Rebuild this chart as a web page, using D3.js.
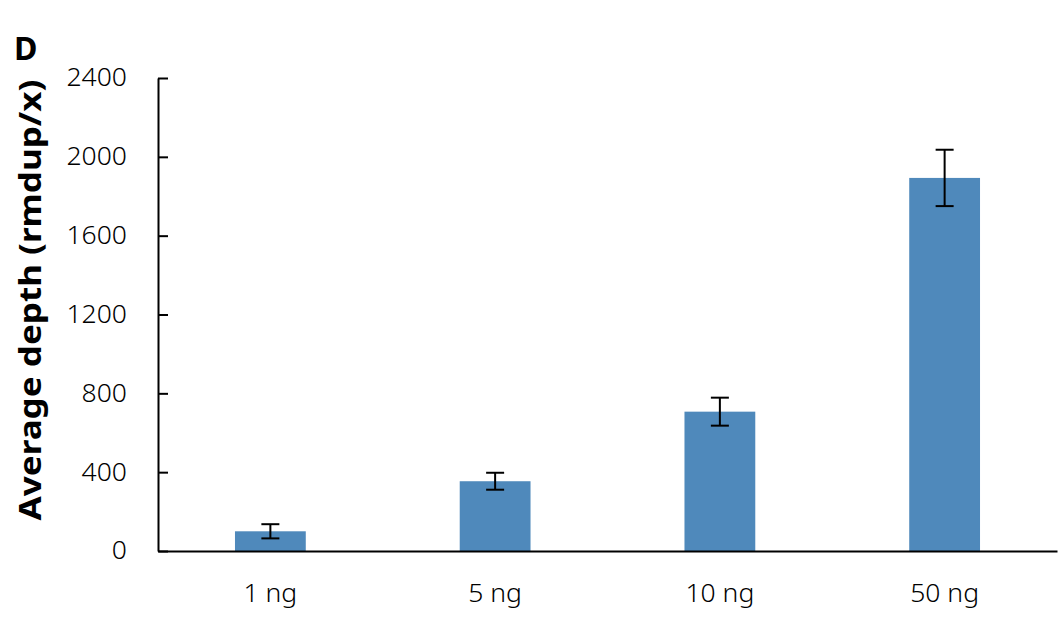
<!DOCTYPE html>
<html>
<head>
<meta charset="utf-8">
<script src="https://cdn.jsdelivr.net/npm/d3@7"></script>
<style>
  body { margin: 0; background: #fff; }
  svg text { font-family: "Noto Sans", sans-serif; fill: #000; }
</style>
</head>
<body>
<div id="chart"></div>
<script>
// Data.
var categories = ['1 ng', '5 ng', '10 ng', '50 ng'];
var depthMean = [100, 354, 707, 1893];
var depthErr = [36, 43, 71, 143];
var yTicks = [0, 400, 800, 1200, 1600, 2000, 2400];

var width = 1064, height = 627;
var margin = { left: 158, right: 7, top: 78, bottom: 76 };

var svg = d3.select('#chart')
    .append('svg')
    .attr('width', width)
    .attr('height', height);

var x = d3.scaleBand()
    .domain(categories)
    .range([margin.left, width - margin.right])
    .paddingInner(0.685)
    .paddingOuter(0.3425);

var y = d3.scaleLinear()
    .domain([0, 2400])
    .range([height - margin.bottom, margin.top]);

// Bars.
svg.selectAll('.bar')
    .data(categories)
    .enter()
    .append('rect')
    .attr('class', 'bar')
    .attr('x', function(d) { return x(d); })
    .attr('width', x.bandwidth())
    .attr('y', function(d, i) { return y(depthMean[i]); })
    .attr('height', function(d, i) { return y(0) - y(depthMean[i]); })
    .attr('fill', '#4f89bb');

// Error bars.
var err = svg.selectAll('.err')
    .data(categories)
    .enter()
    .append('g')
    .attr('class', 'err')
    .attr('stroke', '#000')
    .attr('stroke-width', 2);

var cx = function(d) { return x(d) + x.bandwidth() / 2; };
err.append('line')
    .attr('x1', cx).attr('x2', cx)
    .attr('y1', function(d, i) { return y(depthMean[i] + depthErr[i]); })
    .attr('y2', function(d, i) { return y(depthMean[i] - depthErr[i]); });
err.append('line')
    .attr('x1', function(d) { return cx(d) - 9; })
    .attr('x2', function(d) { return cx(d) + 9; })
    .attr('y1', function(d, i) { return y(depthMean[i] + depthErr[i]); })
    .attr('y2', function(d, i) { return y(depthMean[i] + depthErr[i]); });
err.append('line')
    .attr('x1', function(d) { return cx(d) - 9; })
    .attr('x2', function(d) { return cx(d) + 9; })
    .attr('y1', function(d, i) { return y(depthMean[i] - depthErr[i]); })
    .attr('y2', function(d, i) { return y(depthMean[i] - depthErr[i]); });

// Y axis, ticks pointing inward.
var yAxis = svg.append('g')
    .attr('transform', 'translate(' + margin.left + ',0)')
    .call(d3.axisLeft(y).tickValues(yTicks).tickFormat(d3.format('d'))
        .tickSize(-10).tickPadding(31).tickSizeOuter(0));
yAxis.select('.domain').attr('stroke', '#000').attr('stroke-width', 2);
yAxis.selectAll('.tick line').attr('stroke', '#000').attr('stroke-width', 2);
yAxis.selectAll('.tick text').style('font-size', '26.5px').style('font-weight', 300).attr('dy', '0.3em');

// X axis.
var xAxis = svg.append('g')
    .attr('transform', 'translate(0,' + y(0) + ')')
    .call(d3.axisBottom(x).tickSize(0).tickPadding(32).tickSizeOuter(0));
xAxis.select('.domain').attr('stroke', '#000').attr('stroke-width', 2);
xAxis.selectAll('.tick text').style('font-size', '26.5px').style('font-weight', 300);

// Axis title.
svg.append('text')
    .attr('transform', 'translate(41,300) rotate(-90)')
    .attr('text-anchor', 'middle')
    .attr('textLength', 441)
    .attr('lengthAdjust', 'spacingAndGlyphs')
    .style('font-size', '31px')
    .style('font-weight', 'bold')
    .text('Average depth (rmdup/x)');

// Panel letter.
svg.append('text')
    .attr('x', 14)
    .attr('y', 60)
    .style('font-size', '32px')
    .style('font-weight', 'bold')
    .text('D');
</script>
</body>
</html>
